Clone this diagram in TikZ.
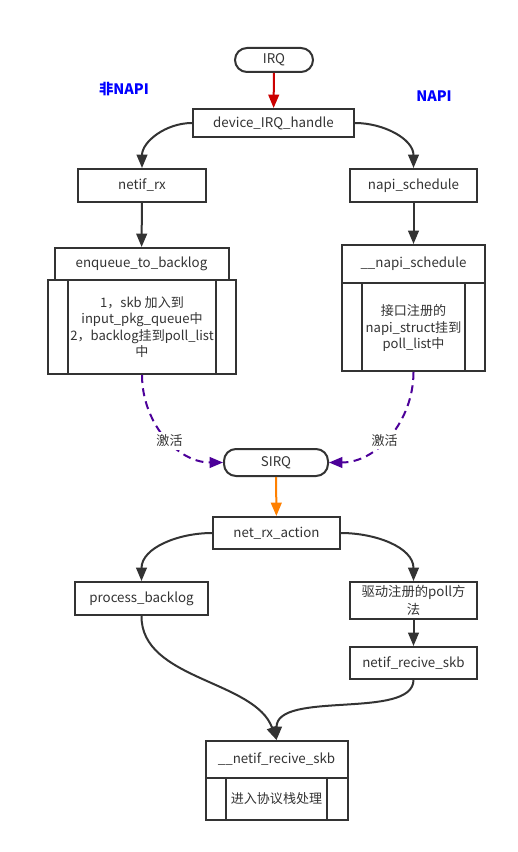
\documentclass[tikz,border=0pt]{standalone}
\usepackage{fontspec}
\setmainfont{Noto Sans CJK SC}
\usetikzlibrary{arrows.meta}
\definecolor{ink}{HTML}{333333}
\definecolor{redl}{HTML}{CC0000}
\definecolor{purp}{HTML}{4C0099}
\definecolor{oran}{HTML}{FF8000}
\tikzset{
  box/.style={draw=ink,line width=1.5pt,fill=white,text=ink,font=\fontsize{10}{12}\selectfont,inner sep=0pt},
  rbox/.style={box,rounded corners=9pt},
  lbl/.style={text=ink,font=\fontsize{9.8}{12.4}\selectfont,align=center,inner sep=0pt},
  conn/.style={draw=ink,line width=1.5pt,-{Triangle[length=10pt,width=8pt]}},
  act/.style={draw=purp,line width=1.5pt,dash pattern=on 6pt off 4pt,-{Triangle[length=10pt,width=8pt]}},
  tag/.style={text=blue,font=\fontsize{10.8}{12}\bfseries\selectfont}
}
\begin{document}
\begin{tikzpicture}[x=0.75pt,y=-0.75pt]
\useasboundingbox (0,0) rectangle (517,852);
% nodes
\node[rbox,minimum width=78pt*0.75,minimum height=24*0.75pt] (irq) at (274,60) {IRQ};
\node[box,minimum width=161*0.75pt,minimum height=28*0.75pt] (dev) at (273.5,123) {device\_IRQ\_handle};
\node[tag] (non) at (124,89) {非NAPI};
\node[tag] (napi) at (434,96) {NAPI};
\node[box,minimum width=128*0.75pt,minimum height=33*0.75pt] (nrx) at (142,185.5) {netif\_rx};
\node[box,minimum width=127*0.75pt,minimum height=33*0.75pt] (nsch) at (413.5,185.5) {napi\_schedule};
% enqueue_to_backlog compound
\node[box,minimum width=188*0.75pt,minimum height=94*0.75pt] (enqb) at (142,327) {};
\draw[ink,line width=1.5pt] (68,280) -- (68,374) (216,280) -- (216,374);
\node[box,minimum width=174*0.75pt,minimum height=32*0.75pt] (enq) at (141.5,264) {enqueue\_to\_backlog};
\node[lbl] (enqt) at (142,327) {1，skb 加入到\\input\_pkg\_queue中\\2，backlog挂到poll\_list\\中};
% __napi_schedule compound
\node[box,minimum width=143*0.75pt,minimum height=88*0.75pt] (nsb) at (413.5,327) {};
\draw[ink,line width=1.5pt] (362,283) -- (362,371) (465,283) -- (465,371);
\node[box,minimum width=143*0.75pt,minimum height=38*0.75pt] (nsc) at (413.5,264) {\_\_napi\_schedule};
\node[lbl] (nst) at (413.5,328) {接口注册的\\napi\_struct挂到\\poll\_list中};
% SIRQ
\node[rbox,minimum width=104*0.75pt,minimum height=27*0.75pt] (sirq) at (276,462.5) {SIRQ};
\node[box,minimum width=127*0.75pt,minimum height=32*0.75pt] (nra) at (276.5,533) {net\_rx\_action};
\node[box,minimum width=133*0.75pt,minimum height=33*0.75pt] (pbl) at (141.5,598.5) {process\_backlog};
\node[box,minimum width=127*0.75pt,minimum height=37*0.75pt,align=center,font=\fontsize{10}{13}\selectfont] (poll) at (413.5,600.5) {驱动注册的poll方\\法};
\node[box,minimum width=127*0.75pt,minimum height=32*0.75pt] (nrs) at (413.5,663) {netif\_recive\_skb};
% __netif_recive_skb compound
\node[box,minimum width=142*0.75pt,minimum height=42*0.75pt] (nrsb) at (276.5,799) {};
\draw[ink,line width=1.5pt] (226,778) -- (226,820) (327,778) -- (327,820);
\node[box,minimum width=142*0.75pt,minimum height=37*0.75pt] (nrst) at (276.5,759.5) {\_\_netif\_recive\_skb};
\node[lbl] (nrbt) at (276.5,799) {进入协议栈处理};
% connectors
\draw[draw=redl,line width=1.5pt,-{Triangle[length=10pt,width=8pt]},redl] (irq) -- (dev);
\draw[conn] (dev.west) to[out=180,in=90] (nrx.north);
\draw[conn] (dev.east) to[out=0,in=90] (nsch.north);
\draw[conn] (nrx) -- (enq);
\draw[conn] (nsch) -- (nsc);
\draw[act] (enqb.south) to[out=-90,in=180] node[pos=0.55,fill=white,lbl,inner sep=2pt] {激活} (sirq.west);
\draw[act] (nsb.south) to[out=-90,in=0] node[pos=0.55,fill=white,lbl,inner sep=2pt] {激活} (sirq.east);
\draw[draw=oran,line width=1.5pt,-{Triangle[length=10pt,width=8pt]},oran] (sirq) -- (nra);
\draw[conn] (nra.west) to[out=180,in=90] (pbl.north);
\draw[conn] (nra.east) to[out=0,in=90] (poll.north);
\draw[conn] (poll) -- (nrs);
\draw[conn] (pbl.south) .. controls (141,680) and (255,680) .. (nrst.north);
\draw[conn] (nrs.south) .. controls (413,720) and (276.5,690) .. (nrst.north);
\end{tikzpicture}
\end{document}
